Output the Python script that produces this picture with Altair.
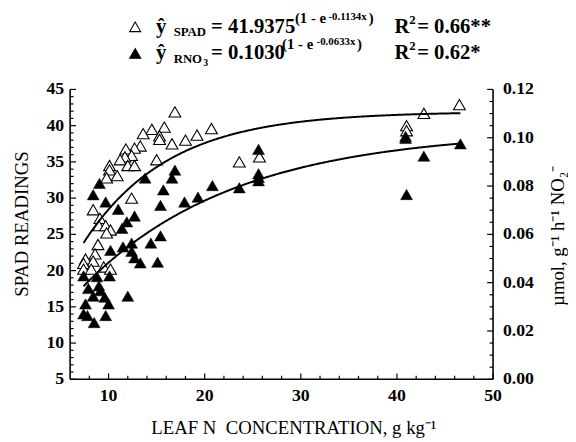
import altair as alt
import pandas as pd

SERIF = "Liberation Serif"

# ---- data ----------------------------------------------------------------
# SPAD readings (open triangles, left axis)
spad_leaf_n = [16.9, 14.5, 15.8, 13.6, 15.3, 15.3, 16.6, 18.0, 19.2, 20.7,
               13.3, 12.7, 11.8, 12.4, 11.7, 11.2, 12.0, 12.7, 15.0, 10.1,
               10.1, 9.8, 10.9, 12.4, 8.4, 9.1, 9.0, 9.7, 10.2, 9.8,
               8.9, 8.6, 7.6, 8.4, 7.4, 9.5, 7.4, 8.2, 10.2, 23.6,
               25.7, 46.5, 42.8, 41.0, 41.0]
spad_reading = [41.9, 39.5, 39.8, 38.9, 38.6, 38.1, 37.5, 38.0, 38.7, 39.6,
                37.2, 36.9, 36.8, 35.9, 35.7, 35.3, 34.5, 34.5, 35.3, 34.5,
                33.9, 32.8, 33.1, 30.0, 28.4, 27.2, 26.2, 26.2, 25.6, 25.2,
                23.6, 22.3, 21.6, 21.3, 21.0, 20.5, 20.2, 20.2, 20.2, 35.0,
                35.7, 42.9, 41.7, 40.0, 39.3]

# Nitrate reductase activity (filled triangles, right axis)
rno_leaf_n = [9.05, 13.8, 16.9, 16.6, 8.4, 15.7, 9.7, 11.0, 11.9, 12.7,
              11.4, 15.4, 17.9, 19.3, 15.4, 14.4, 12.4, 10.2, 12.4, 12.7,
              13.3, 15.1, 7.4, 8.8, 10.1, 9.0, 7.9, 8.4, 9.6, 10.0,
              12.0, 7.6, 7.4, 7.8, 9.7, 8.5, 25.6, 25.6, 25.6, 20.8,
              23.6, 40.9, 40.9, 46.6, 42.8, 41.0, 11.5, 9.15, 25.6]
rno_activity = [0.0811, 0.0833, 0.0866, 0.0833, 0.0764, 0.0784, 0.0734, 0.0704, 0.0652, 0.0676,
                0.0625, 0.0720, 0.0734, 0.0754, 0.0594, 0.0564, 0.0564, 0.0534, 0.0530, 0.0503,
                0.0482, 0.0485, 0.0428, 0.0425, 0.0428, 0.0387, 0.0376, 0.0344, 0.0340, 0.0312,
                0.0344, 0.0312, 0.0271, 0.0264, 0.0264, 0.0235, 0.0952, 0.0836, 0.0822, 0.0802,
                0.0793, 0.1006, 0.0997, 0.0975, 0.0924, 0.0765, 0.0548, 0.0367, 0.0851]

# fitted models shown in the legend
SPAD_A, SPAD_K = 41.9375, 0.1134
RNO_A, RNO_K = 0.1030, 0.0633
CURVE_START, CURVE_END = 7.4, 46.6

# axis ticks and tick labels
x_major = [10, 20, 30, 40, 50]
x_labels = ["10", "20", "30", "40", "50"]
x_minor = [v for v in range(8, 50, 2) if v % 10]
yl_major = [5, 10, 15, 20, 25, 30, 35, 40, 45]
yl_labels = ["5", "10", "15", "20", "25", "30", "35", "40", "45"]
yl_minor = [v for v in range(6, 45) if v % 5]
yr_major = [0.00, 0.02, 0.04, 0.06, 0.08, 0.10, 0.12]
yr_labels = ["0.00", "0.02", "0.04", "0.06", "0.08", "0.10", "0.12"]
yr_minor = [round(i * 0.005, 3) for i in range(1, 24) if i % 4]

# ---- layout ----------------------------------------------------------------
W, H = 429, 294
PAD = {"left": 63, "top": 79.5, "right": 76, "bottom": 60.5}
OX, OY = 8 + PAD["left"], 8 + PAD["top"]

xs = alt.Scale(domain=[6, 50], nice=False, zero=False)
yls = alt.Scale(domain=[5, 45], nice=False, zero=False)
yrs = alt.Scale(domain=[0, 0.12], nice=False, zero=False)

open_df = pd.DataFrame({"n": spad_leaf_n, "spad": spad_reading})
fill_df = pd.DataFrame({"n": rno_leaf_n, "rno": rno_activity})
one = pd.DataFrame({"k": [0]})

open_pts = alt.Chart(open_df).mark_point(
    shape="triangle-up", size=145, filled=True, fill="white", stroke="black",
    strokeWidth=1.1, opacity=1
).encode(
    x=alt.X("n:Q", scale=xs, axis=None),
    y=alt.Y("spad:Q", scale=yls, axis=None),
)

fill_pts = alt.Chart(fill_df).mark_point(
    shape="triangle-up", size=145, filled=True, fill="black", stroke="black",
    strokeWidth=0.5, opacity=1
).encode(
    x=alt.X("n:Q", scale=xs, axis=None),
    y=alt.Y("rno:Q", scale=yrs, axis=None),
)

spad_curve = alt.Chart(alt.sequence(CURVE_START, CURVE_END + 0.05, 0.1, as_="n")).transform_calculate(
    spad=f"{SPAD_A} * (1 - exp(-{SPAD_K} * datum.n))"
).mark_line(color="black", strokeWidth=2).encode(
    x=alt.X("n:Q", scale=xs, axis=None),
    y=alt.Y("spad:Q", scale=yls, axis=None),
)

rno_curve = alt.Chart(alt.sequence(CURVE_START, CURVE_END + 0.05, 0.1, as_="n")).transform_calculate(
    rno=f"{RNO_A} * (1 - exp(-{RNO_K} * datum.n))"
).mark_line(color="black", strokeWidth=2).encode(
    x=alt.X("n:Q", scale=xs, axis=None),
    y=alt.Y("rno:Q", scale=yrs, axis=None),
)


def xticks(vals, length):
    return alt.Chart(pd.DataFrame({"t": vals})).mark_rule(color="black", strokeWidth=1.2).encode(
        x=alt.X("t:Q", scale=xs, axis=None), y=alt.value(H), y2=alt.value(H - length))


def yticks(vals, scale, x0, x1):
    return alt.Chart(pd.DataFrame({"t": vals})).mark_rule(color="black", strokeWidth=1.2).encode(
        y=alt.Y("t:Q", scale=scale, axis=None), x=alt.value(x0), x2=alt.value(x1))


tick_font = dict(font=SERIF, fontSize=18, fontWeight="bold", color="black")

x_tick_labels = alt.Chart(pd.DataFrame({"t": x_major, "lab": x_labels})).mark_text(
    align="center", baseline="top", **tick_font
).encode(x=alt.X("t:Q", scale=xs, axis=None), y=alt.value(H + 8), text="lab:N")

yl_tick_labels = alt.Chart(pd.DataFrame({"t": yl_major, "lab": yl_labels})).mark_text(
    align="right", baseline="middle", **tick_font
).encode(y=alt.Y("t:Q", scale=yls, axis=None), x=alt.value(-6), text="lab:N")

yr_tick_labels = alt.Chart(pd.DataFrame({"t": yr_major, "lab": yr_labels})).mark_text(
    align="left", baseline="middle", **tick_font
).encode(y=alt.Y("t:Q", scale=yrs, axis=None), x=alt.value(W + 10), text="lab:N")

frame_style = dict(color="black", strokeWidth=1.6)
left_line = alt.Chart(one).mark_rule(**frame_style).encode(
    x=alt.value(0), y=alt.value(0), y2=alt.value(H))
right_line = alt.Chart(one).mark_rule(**frame_style).encode(
    x=alt.value(W), y=alt.value(0), y2=alt.value(H))
bottom_line = alt.Chart(one).mark_rule(**frame_style).encode(
    x=alt.value(0), x2=alt.value(W), y=alt.value(H))


def label(s, x, y, size, weight="bold", align="left", baseline="alphabetic", angle=0):
    kw = dict(font=SERIF, fontSize=size, fontWeight=weight, align=align,
              baseline=baseline, color="black")
    if angle:
        kw["angle"] = angle
    return alt.Chart(one).mark_text(**kw).encode(
        text=alt.value(s), x=alt.value(x - OX), y=alt.value(y - OY))


def legend_symbol(x, y, fill):
    return alt.Chart(one).mark_point(
        shape="triangle-up", size=125, filled=True, fill=fill, stroke="black",
        strokeWidth=1.1, opacity=1
    ).encode(x=alt.value(x - OX), y=alt.value(y - OY))


annotations = [
    # row 1
    legend_symbol(137, 24, "white"),
    label("ŷ", 158, 30, 21),
    label("SPAD", 176, 33, 13),
    label("= 41.9375", 214, 30, 21),
    label("(1 - e", 299, 20, 15),
    label("-0.1134x", 333, 17, 11),
    label(")", 374, 20, 15),
    label("R", 400, 30, 21),
    label("2", 415, 21, 13),
    label("= 0.66**", 423, 30, 21),
    # row 2
    legend_symbol(137, 51, "black"),
    label("ŷ", 158, 57, 21),
    label("RNO", 176, 61, 13),
    label("3", 206, 64, 10),
    label("= 0.1030", 214, 57, 21),
    label("(1 - e", 286, 46, 15),
    label("-0.0633x", 321, 42, 11),
    label(")", 362, 46, 15),
    label("R", 400, 57, 21),
    label("2", 415, 48, 13),
    label("= 0.62*", 423, 57, 21),
    # axis titles
    label("SPAD READINGS", 22, 224, 19, weight="normal", align="center",
          baseline="middle", angle=270),
    label("LEAF N\u00a0 CONCENTRATION, g kg\u207b\u00b9", 298, 437, 19,
          weight="normal", align="center"),
    label("\u00b5mol, g\u207b\u00b9 h\u207b\u00b9 NO\u2082\u207b", 566, 236, 19,
          weight="normal", align="center", baseline="middle", angle=270),
]

left = alt.layer(
    open_pts, spad_curve,
    xticks(x_minor, 3.5), xticks(x_major, 6),
    yticks(yl_minor, yls, 0, 3.5), yticks(yl_major, yls, 0, 6),
    left_line, right_line, bottom_line,
    x_tick_labels, yl_tick_labels,
    *annotations,
)
right = alt.layer(
    fill_pts, rno_curve,
    yticks(yr_minor, yrs, W, W - 3.5), yticks(yr_major, yrs, W, W - 6),
    yr_tick_labels,
)

chart = alt.layer(left, right).resolve_scale(y="independent").properties(
    width=W, height=H, padding=PAD,
    autosize=alt.AutoSizeParams(type="none"),
    background="white",
).configure_view(stroke=None)

chart.save("out.html", embed_options={"renderer": "svg", "actions": False})
